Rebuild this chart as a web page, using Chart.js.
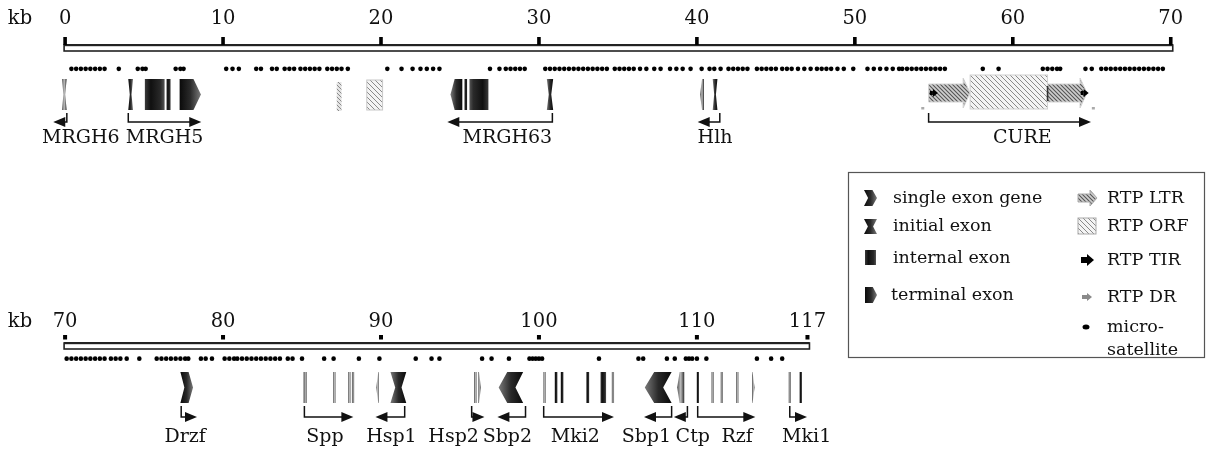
<!DOCTYPE html>
<html><head><meta charset="utf-8">
<script src="https://cdn.jsdelivr.net/npm/chart.js@4.4.0/dist/chart.umd.min.js"></script>
<style>html,body{margin:0;padding:0;background:#fff;overflow:hidden}#wrap{position:relative;width:1212px;height:454px}</style>
</head><body><div id="wrap"><canvas id="c" width="1212" height="454"></canvas></div>
<script>
// ---------- DATA (kb) ----------
const topTicks = [0, 10, 20, 30, 40, 50, 60, 70];
const botTicks = [70, 80, 90, 100, 110, 117];

const topSat = [0.4,0.7,1.0,1.3,1.6,1.9,2.2,2.5, 3.4, 4.6,4.9,5.1, 7.0,7.3,7.5,
  10.2,10.6,11.0, 12.1,12.4, 13.1,13.4, 13.9,14.2,14.5, 14.9,15.2,15.5, 15.8,16.1,
  16.6,16.9,17.2,17.5,17.9, 20.4, 21.3, 22.0,22.5,22.9,23.3,23.7, 26.9,
  27.5,27.9,28.2,28.5,28.8,29.1, 30.4,30.7,31.0,31.3,31.6,31.9,32.2,32.5,32.8,33.1,33.4,
  33.7,34.0,34.3, 34.8,35.1,35.4,35.7,36.0,36.4,36.8,37.3,37.7, 38.3,38.7,39.1,39.6,
  40.3,40.8,41.1,41.5, 42.0,42.3,42.6,42.9,43.2, 43.8,44.1,44.4,44.7,45.0,45.4,
  45.7,46.0,46.4,46.8,47.2,47.6, 47.9,48.2,48.5,48.9,49.3, 49.9,
  50.8,51.2,51.6,52.0,52.4,52.8, 53.0,53.3,53.6,53.9,54.2,54.5,54.8,55.1,55.4,55.7,
  58.1, 59.1, 61.9,62.2,62.5,62.8,63.0, 64.6,65.0,
  65.6,65.9,66.2,66.5,66.8,67.1,67.4,67.7,68.0,68.3,68.6,68.9,69.2,69.5];
const botSat = [70.1,70.4,70.7,71.0,71.3,71.6,71.9,72.2,72.5, 72.9, 73.2,73.5,73.9, 74.7,
  75.8,76.1,76.4,76.7,77.0,77.3,77.6,77.8, 78.6,78.9,79.3, 80.1,80.4,80.7,
  80.9,81.2,81.5,81.8,82.1, 82.4,82.7,83.0,83.3,83.6, 84.1,84.4, 85.0, 86.4, 87.0,
  88.6, 89.9, 92.2, 93.2, 93.7, 96.4, 97.0, 98.1, 99.4,99.6,99.8,100.0,100.2,
  103.8, 106.3,106.6, 108.1, 108.6, 109.3,109.5,109.7,110.0, 110.6, 113.8, 114.7, 115.4];

// exons: [start kb, end kb, type (S single, I initial, N internal, T terminal), strand, tone (d dark / l light)]
const topExons = [
  [-0.2, 0.1, 'I', -1, 'l'],
  [4.0, 4.3, 'I', 1, 'd'], [5.05, 6.3, 'N', 1, 'd'], [6.42, 6.68, 'N', 1, 'd'], [7.25, 8.6, 'T', 1, 'd'],
  [24.4, 25.15, 'T', -1, 'd'], [25.28, 25.45, 'N', -1, 'd'], [25.6, 26.8, 'N', -1, 'd'], [30.5, 30.9, 'I', -1, 'd'],
  [40.2, 40.45, 'T', -1, 'l'], [41.0, 41.3, 'I', -1, 'd']
];
const botExons = [
  [77.3, 78.1, 'S', 1, 'd'],
  [85.1, 85.3, 'N', 1, 'l'], [87.0, 87.1, 'N', 1, 'l'], [87.95, 88.05, 'N', 1, 'l'], [88.2, 88.26, 'N', 1, 'l'],
  [89.7, 89.85, 'T', -1, 'l'], [90.6, 91.6, 'I', -1, 'd'],
  [95.9, 96.05, 'N', 1, 'l'], [96.17, 96.33, 'T', 1, 'l'],
  [97.45, 99.0, 'S', -1, 'd'],
  [100.3, 100.42, 'N', 1, 'l'], [101.0, 101.17, 'N', 1, 'd'], [101.38, 101.55, 'N', 1, 'd'],
  [103.0, 103.18, 'N', 1, 'd'], [103.9, 104.25, 'N', 1, 'd'], [104.65, 104.72, 'N', 1, 'l'],
  [106.7, 108.4, 'S', -1, 'd'],
  [108.75, 109.2, 'T', -1, 'l'],
  [110.0, 110.12, 'N', 1, 'd'], [110.95, 111.05, 'N', 1, 'l'], [111.53, 111.63, 'N', 1, 'l'],
  [112.5, 112.62, 'N', 1, 'l'], [113.5, 113.65, 'T', 1, 'l'],
  [115.82, 115.95, 'N', 1, 'l'], [116.5, 116.65, 'N', 1, 'd']
];
// retrotransposon parts: [start, end, kind]
const topRTP = [
  [17.2, 17.5, 'thin'], [19.1, 20.1, 'ORF'],
  [54.67, 57.3, 'LTR'], [57.3, 62.2, 'ORFbig'], [62.2, 64.7, 'LTR']
];
const topTIR = [54.75, 64.3];
const topDR = [54.3, 65.1];

// genes: [label, stem kb, arrow tip kb, label centre kb]
const topGenes = [
  ['MRGH6', 0.11, -0.75, 1.0], ['MRGH5', 4.0, 8.62, 6.3], ['MRGH63', 30.85, 24.2, 28.0],
  ['Hlh', 41.45, 40.05, 41.15], ['CURE', 54.67, 64.95, 60.6]
];
const botGenes = [
  ['Drzf', 77.35, 78.35, 77.6], ['Spp', 85.15, 88.25, 86.45], ['Hsp1', 91.5, 89.65, 90.66],
  ['Hsp2', 95.74, 96.55, 94.6], ['Sbp2', 99.15, 97.37, 98.0], ['Mki2', 100.3, 104.75, 102.3],
  ['Sbp1', 108.4, 106.65, 106.8], ['Ctp', 109.4, 108.54, 109.74], ['Rzf', 110.05, 113.7, 112.55],
  ['Mki1', 115.88, 116.97, 116.95]
];

const legendLeft = ['single exon gene', 'initial exon', 'internal exon', 'terminal exon'];
const legendRight = ['RTP LTR', 'RTP ORF', 'RTP TIR', 'RTP DR', 'micro-', 'satellite'];

// ---------- LAYOUT ----------
const PX_PER_KB = 15.9, ORIGIN = 61.5;
const T = {tickLab: 19, tickTop: 37, rulerTop: 45, rulerBot: 51, sat: 66, fTop: 79, fBot: 110, arrow: 122, label: 138, axis: 'xt'};
const B = {tickLab: 322, tickTop: 335, rulerTop: 343, rulerBot: 349, sat: 361, fTop: 372, fBot: 403, arrow: 417, label: 437, axis: 'xb'};
const SERIF = '"DejaVu Serif", "Liberation Serif", serif';

function hatch(bg, fg, step, lw) {
  const c = document.createElement('canvas'); c.width = step; c.height = step;
  const g = c.getContext('2d'); g.fillStyle = bg; g.fillRect(0, 0, step, step);
  g.strokeStyle = fg; g.lineWidth = lw;
  g.beginPath(); g.moveTo(-1, -1); g.lineTo(step + 1, step + 1);
  g.moveTo(-1, step - 1); g.lineTo(1, step + 1); g.moveTo(step - 1, -1); g.lineTo(step + 1, 1); g.stroke();
  return c;
}

function exonPath(ctx, x0, x1, y0, y1, type, strand) {
  const w = x1 - x0;
  ctx.beginPath();
  if (type === 'N') { ctx.rect(x0, y0, w, y1 - y0); return; }
  const pts = [];
  const d = Math.max(1.5, w * 0.3);
  if (type === 'I') { pts.push([0, 0], [w, 0], [w - d, 0.5], [w, 1], [0, 1], [d, 0.5]); }
  else if (type === 'T') { const p = Math.max(2, w * 0.35); pts.push([0, 0], [w - p, 0], [w, 0.5], [w - p, 1], [0, 1]); }
  else if (type === 'S') { const p = Math.max(2, w * 0.35); pts.push([0, 0], [w - p, 0], [w, 0.5], [w - p, 1], [0, 1], [p * 0.9, 0.5]); }
  pts.forEach((p, i) => {
    const px = strand > 0 ? x0 + p[0] : x1 - p[0];
    const py = y0 + p[1] * (y1 - y0);
    if (i === 0) ctx.moveTo(px, py); else ctx.lineTo(px, py);
  });
  ctx.closePath();
}

function exonFill(ctx, x0, x1, y0, type, strand, tone) {
  const a = strand > 0 ? x0 : x1, b = strand > 0 ? x1 : x0;
  const g = ctx.createLinearGradient(a, y0, b, y0);
  if (tone === 'd') {
    if (type === 'N') { g.addColorStop(0, '#3a3a3a'); g.addColorStop(0.3, '#101010'); g.addColorStop(0.8, '#2a2a2a'); g.addColorStop(1, '#555'); }
    else { g.addColorStop(0, '#0a0a0a'); g.addColorStop(0.5, '#2a2a2a'); g.addColorStop(1, '#7a7a7a'); }
  } else { g.addColorStop(0, '#2e2e2e'); g.addColorStop(0.5, '#bdbdbd'); g.addColorStop(1, '#555'); }
  return g;
}

function drawExon(ctx, x0, x1, y0, y1, type, strand, tone) {
  if (x1 - x0 < 2.2) { const m = (x0 + x1) / 2; x0 = m - 1.1; x1 = m + 1.1; }
  exonPath(ctx, x0, x1, y0, y1, type, strand);
  ctx.fillStyle = exonFill(ctx, x0, x1, y0, type, strand, tone);
  ctx.fill();
}

function arrowHead(ctx, x, y, dir, len, half) {
  ctx.beginPath(); ctx.moveTo(x, y); ctx.lineTo(x - dir * len, y - half); ctx.lineTo(x - dir * len, y + half); ctx.closePath(); ctx.fill();
}

function drawTrack(ctx, chart, L, ticks, exons, genes) {
  const sc = chart.scales[L.axis];
  const px = v => sc.getPixelForValue(v);
  const x0 = px(ticks[0]), x1 = px(ticks[ticks.length - 1]);
  ctx.save();
  ctx.strokeStyle = '#222'; ctx.lineWidth = 1.6;
  ctx.strokeRect(x0 - 1, L.rulerTop, x1 - x0 + 3, L.rulerBot - L.rulerTop);
  ctx.fillStyle = '#222'; ctx.fillRect(x0 - 1, L.rulerTop - 1, x1 - x0 + 3, 2.2);
  ctx.fillStyle = '#000';
  ticks.forEach(t => {
    const x = px(t);
    if (L.axis === 'xt') ctx.fillRect(x - 1.8, L.tickTop, 3.6, L.rulerTop - L.tickTop);
    else ctx.fillRect(x - 2, L.tickTop, 4, 4.5);
  });
  ctx.font = '19.5px ' + SERIF; ctx.textAlign = 'center'; ctx.textBaseline = 'middle'; ctx.fillStyle = '#111';
  ticks.forEach(t => ctx.fillText(String(t), px(t), L.tickLab));
  ctx.fillText('kb', 20, L.tickLab);
  exons.forEach(e => drawExon(ctx, px(e[0]), px(e[1]), L.fTop, L.fBot, e[2], e[3], e[4]));
  ctx.strokeStyle = '#111'; ctx.fillStyle = '#111'; ctx.lineWidth = 1.5;
  genes.forEach(g => {
    const xs = px(g[1]), xt = px(g[2]);
    const dir = xt > xs ? 1 : -1;
    ctx.beginPath(); ctx.moveTo(xs, L.fBot + 3); ctx.lineTo(xs, L.arrow); ctx.lineTo(xt - dir * 8, L.arrow); ctx.stroke();
    arrowHead(ctx, xt, L.arrow, dir, 12, 5);
  });
  ctx.font = '19px ' + SERIF; ctx.fillStyle = '#111';
  genes.forEach(g => ctx.fillText(g[0], px(g[3]), L.label));
  ctx.restore();
}

let ORFPAT, LTRPAT, THINPAT;
function drawRTP(ctx, chart) {
  const sc = chart.scales.xt; const px = v => sc.getPixelForValue(v);
  const L = T;
  if (!ORFPAT) {
    ORFPAT = ctx.createPattern(hatch('#f4f4f4', '#8a8a8a', 5, 1), 'repeat');
    LTRPAT = ctx.createPattern(hatch('#cfcfcf', '#555', 4, 1.1), 'repeat');
    THINPAT = ctx.createPattern(hatch('#e4e4e4', '#8a8a8a', 4, 1), 'repeat');
  }
  ctx.save();
  const ym = 93;
  topRTP.forEach(r => {
    const a = px(r[0]), b = px(r[1]);
    if (r[2] === 'ORF') {
      ctx.fillStyle = ORFPAT; ctx.fillRect(a, L.fTop + 1, b - a, L.fBot - L.fTop - 1);
      ctx.strokeStyle = '#c8c8c8'; ctx.lineWidth = 1; ctx.strokeRect(a, L.fTop + 1, b - a, L.fBot - L.fTop - 1);
    } else if (r[2] === 'ORFbig') {
      ctx.fillStyle = ORFPAT; ctx.fillRect(a, L.fTop - 4, b - a, L.fBot - L.fTop + 3);
      ctx.strokeStyle = '#d0d0d0'; ctx.lineWidth = 1; ctx.strokeRect(a, L.fTop - 4, b - a, L.fBot - L.fTop + 3);
    } else if (r[2] === 'thin') {
      ctx.fillStyle = THINPAT; ctx.fillRect(a, L.fTop + 3, b - a, L.fBot - L.fTop - 2);
    } else {
      const hb = 9, hh = 15, head = 7;
      ctx.beginPath();
      ctx.moveTo(a, ym - hb); ctx.lineTo(b - head, ym - hb); ctx.lineTo(b - head, ym - hh);
      ctx.lineTo(b, ym); ctx.lineTo(b - head, ym + hh); ctx.lineTo(b - head, ym + hb); ctx.lineTo(a, ym + hb); ctx.closePath();
      ctx.fillStyle = LTRPAT; ctx.fill();
      ctx.strokeStyle = '#d4d4d4'; ctx.lineWidth = 1; ctx.stroke();
    }
  });
  ctx.fillStyle = '#333'; ctx.fillRect(px(62.2) - 0.8, ym - 7, 1.6, 15);
  topTIR.forEach(k => {
    const x = px(k);
    ctx.fillStyle = '#000';
    ctx.fillRect(x, ym - 2, 3, 4); arrowHead(ctx, x + 8, ym, 1, 5, 4);
  });
  ctx.fillStyle = '#aaa';
  topDR.forEach(k => { const x = px(k); ctx.fillRect(x - 1.5, 107, 3, 2.5); });
  ctx.restore();
}

function drawLegend(ctx) {
  ctx.save();
  ctx.strokeStyle = '#555'; ctx.lineWidth = 1.2;
  ctx.strokeRect(848.5, 172.5, 356, 185);
  drawExon(ctx, 864, 877, 190, 206, 'S', 1, 'd');
  drawExon(ctx, 864, 877, 219, 234, 'I', 1, 'd');
  drawExon(ctx, 865, 876, 250, 265, 'N', 1, 'd');
  drawExon(ctx, 865, 877, 287, 303, 'T', 1, 'd');
  ctx.font = '17.5px ' + SERIF; ctx.fillStyle = '#111'; ctx.textAlign = 'left'; ctx.textBaseline = 'middle';
  const ly = [198, 226, 258, 295];
  legendLeft.forEach((t, i) => ctx.fillText(t, i === 3 ? 891 : 893, ly[i]));
  const ry = [198, 226, 260, 297, 327, 350];
  ctx.beginPath(); ctx.moveTo(1078, 194); ctx.lineTo(1090, 194); ctx.lineTo(1090, 190); ctx.lineTo(1097, 198);
  ctx.lineTo(1090, 206); ctx.lineTo(1090, 202); ctx.lineTo(1078, 202); ctx.closePath();
  ctx.fillStyle = LTRPAT; ctx.fill(); ctx.strokeStyle = '#aaa'; ctx.lineWidth = 1; ctx.stroke();
  ctx.fillStyle = ORFPAT; ctx.fillRect(1078, 218, 18, 16); ctx.strokeStyle = '#aaa'; ctx.strokeRect(1078, 218, 18, 16);
  ctx.fillStyle = '#000'; ctx.fillRect(1081, 257, 7, 6); arrowHead(ctx, 1094, 260, 1, 7, 6);
  ctx.fillStyle = '#8a8a8a'; ctx.fillRect(1082, 295, 5, 4); arrowHead(ctx, 1092, 297, 1, 5, 4);
  ctx.fillStyle = '#000'; ctx.beginPath(); ctx.ellipse(1086, 327, 3.5, 2.5, 0, 0, Math.PI * 2); ctx.fill();
  ctx.fillStyle = '#111';
  legendRight.forEach((t, i) => ctx.fillText(t, 1107, ry[i]));
  ctx.restore();
}

const mapPlugin = {
  id: 'genemap',
  afterDatasetsDraw(chart) {
    const ctx = chart.ctx;
    drawRTP(ctx, chart);
    drawTrack(ctx, chart, T, topTicks, topExons, topGenes);
    drawTrack(ctx, chart, B, botTicks, botExons, botGenes);
    drawLegend(ctx);
  }
};

new Chart(document.getElementById('c'), {
  type: 'scatter',
  data: {
    datasets: [
      { label: 'microsatellite (0-70 kb)', xAxisID: 'xt', yAxisID: 'y',
        data: topSat.map(k => ({x: k, y: T.sat})), pointStyle: 'circle', pointRadius: 2.3,
        backgroundColor: '#000', borderWidth: 0 },
      { label: 'microsatellite (70-117 kb)', xAxisID: 'xb', yAxisID: 'y',
        data: botSat.map(k => ({x: k, y: B.sat})), pointStyle: 'circle', pointRadius: 2.3,
        backgroundColor: '#000', borderWidth: 0 }
    ]
  },
  options: {
    responsive: false, animation: false, devicePixelRatio: 1,
    layout: {padding: 0},
    plugins: {legend: {display: false}, tooltip: {enabled: false}, title: {display: false}},
    scales: {
      xt: {type: 'linear', display: false, min: -ORIGIN / PX_PER_KB, max: (1212 - ORIGIN) / PX_PER_KB},
      xb: {type: 'linear', display: false, min: 70 - ORIGIN / PX_PER_KB, max: 70 + (1212 - ORIGIN) / PX_PER_KB},
      y: {type: 'linear', display: false, reverse: true, min: 0, max: 454}
    }
  },
  plugins: [mapPlugin]
});
</script></body></html>
